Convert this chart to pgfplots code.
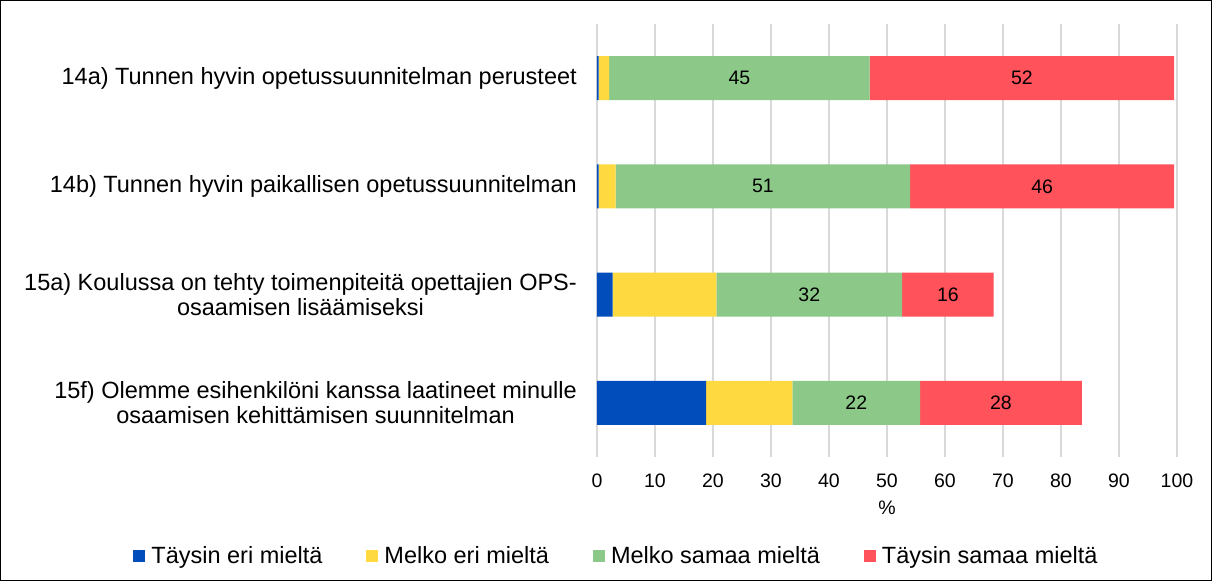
\documentclass[border=0pt]{standalone}
\usepackage{pgfplots}
\pgfplotsset{compat=1.18}
\usepackage{fontspec}
\setmainfont{Liberation Sans}
\usetikzlibrary{calc}
\definecolor{cblue}{RGB}{0,77,187}
\definecolor{cyellow}{RGB}{255,217,64}
\definecolor{cgreen}{RGB}{140,201,136}
\definecolor{cred}{RGB}{255,82,90}
\definecolor{cgrid}{RGB}{217,217,217}
\newcommand{\bigf}{\fontsize{23.5}{25}\selectfont}
\newcommand{\smf}{\fontsize{19.5}{23}\selectfont}
\pgfplotsset{
  sqlegend/.style={legend image code/.code={\fill[##1,draw=none] (0pt,-6pt) rectangle (12pt,6pt);}},
}
\begin{document}
\begin{tikzpicture}[font=\smf]
\begin{axis}[
  name=main,
  scale only axis, width=580pt, height=433pt,
  xbar stacked, bar width=44pt,
  xmin=0, xmax=100, ymin=-0.5, ymax=3.5,
  xtick={0,10,...,100},
  ytick={0,1,2,3},
  yticklabels={{15f) Olemme esihenkilöni kanssa laatineet minulle\\osaamisen kehittämisen suunnitelman},
               {15a) Koulussa on tehty toimenpiteitä opettajien OPS-\\osaamisen lisäämiseksi},
               {14b) Tunnen hyvin paikallisen opetussuunnitelman},
               {14a) Tunnen hyvin opetussuunnitelman perusteet}},
  yticklabel style={align=center, anchor=east, inner sep=0pt, xshift=-20pt, font=\bigf},
  xticklabel style={anchor=center, inner sep=0pt, yshift=-24pt, font=\smf},
  /pgf/number format/assume math mode=true,
  xmajorgrids, grid style={draw=cgrid, line width=1.2pt},
  axis line style={draw=none}, major tick length=0pt,
  xlabel={\%},
  xlabel style={at={(axis description cs:0.5,-0.1178)}, anchor=center, inner sep=0pt, font=\smf},
  legend columns=4,
  legend style={draw=none, at={(axis description cs:0.037,-0.228)}, anchor=center, font=\bigf,
    /tikz/every even column/.append style={column sep=38pt},
    nodes={inner xsep=6pt}},
  legend cell align=left,
]
\addplot[fill=cblue, draw=none, sqlegend] coordinates {(18.8,0) (2.7,1) (0.3,2) (0.3,3)};
\addplot[fill=cyellow, draw=none, sqlegend] coordinates {(14.9,0) (17.9,1) (2.9,2) (1.8,3)};
\addplot[fill=cgreen, draw=none, sqlegend] coordinates {(22.0,0) (32.0,1) (50.8,2) (44.9,3)};
\addplot[fill=cred, draw=none, sqlegend] coordinates {(27.9,0) (15.8,1) (45.5,2) (52.5,3)};
\legend{Täysin eri mieltä, Melko eri mieltä, Melko samaa mieltä, Täysin samaa mieltä}
\end{axis}
\begin{axis}[
  at={(main.south west)}, anchor=south west,
  scale only axis, width=580pt, height=433pt,
  xmin=0, xmax=100, ymin=-0.5, ymax=3.5, hide axis,
]
\addplot[draw=none, mark=none, nodes near coords, point meta=explicit symbolic,
  every node near coord/.append style={anchor=center, inner sep=0pt, font=\smf}]
  table[meta=lab] {
x y lab
24.55 3 45
73.25 3 52
28.6 2 51
76.75 2 46
36.6 1 32
60.5 1 16
44.7 0 22
69.65 0 28
};
\end{axis}
\draw[line width=1.5pt, shift={(main.south west)}] (-596.25pt,-123.25pt) rectangle (614.25pt,456.25pt);
\end{tikzpicture}
\end{document}
